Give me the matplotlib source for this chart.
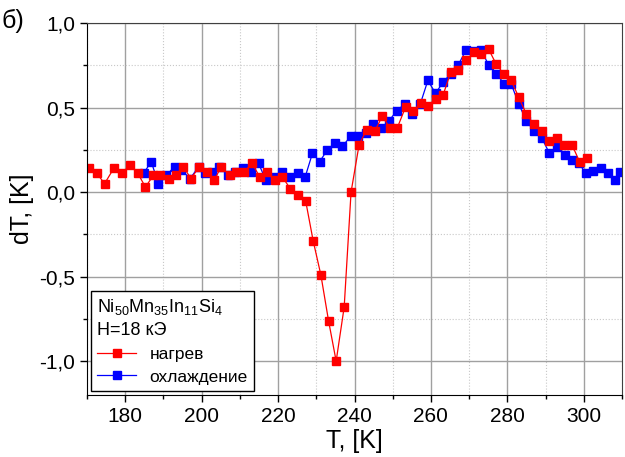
import matplotlib
matplotlib.use('Agg')
import matplotlib.pyplot as plt
from matplotlib.ticker import MultipleLocator, FuncFormatter

plt.rcParams['font.family'] = ['Liberation Sans', 'DejaVu Sans']
plt.rcParams['mathtext.fontset'] = 'custom'
plt.rcParams['mathtext.rm'] = 'Liberation Sans'
plt.rcParams['mathtext.it'] = 'Liberation Sans'

# heating
t_heat = [170.4, 172.6, 174.6, 177.0, 179.1, 181.3, 183.3, 185.3, 187.4, 189.2,
          191.4, 193.3, 195.2, 197.2, 199.4, 201.5, 203.3, 205.1, 207.3, 209.1,
          211.1, 213.2, 215.2, 217.2, 219.2, 221.1, 223.2, 225.3, 227.2, 229.2,
          231.2, 233.2, 235.2, 237.3, 239.1, 241.2, 243.2, 245.3, 247.3, 249.2,
          251.2, 253.4, 255.3, 257.3, 259.2, 261.2, 263.2, 265.2, 267.2, 269.3,
          271.3, 273.2, 275.1, 277.0, 279.0, 281.0, 283.0, 285.0, 287.0, 289.0,
          291.0, 293.0, 294.9, 296.9, 298.9, 300.9]
dt_heat = [0.14, 0.11, 0.05, 0.14, 0.11, 0.16, 0.11, 0.03, 0.10, 0.10,
           0.08, 0.10, 0.15, 0.08, 0.15, 0.12, 0.07, 0.15, 0.10, 0.12,
           0.12, 0.17, 0.09, 0.12, 0.07, 0.09, 0.02, -0.02, -0.05, -0.29,
           -0.49, -0.76, -1.00, -0.68, 0.00, 0.28, 0.37, 0.36, 0.45, 0.38,
           0.38, 0.505, 0.48, 0.525, 0.51, 0.55, 0.575, 0.71, 0.72, 0.78,
           0.83, 0.815, 0.845, 0.76, 0.70, 0.66, 0.56, 0.46, 0.40, 0.36,
           0.30, 0.32, 0.28, 0.28, 0.18, 0.20]

# cooling
t_cool = [184.8, 186.8, 188.7, 190.8, 192.9, 194.7, 197.0, 199.2, 200.9, 202.8,
          204.6, 206.8, 208.8, 210.7, 212.9, 214.9, 216.8, 219.0, 220.9, 223.1,
          225.1, 227.1, 229.0, 230.9, 232.9, 234.9, 236.8, 239.0, 241.0, 242.9,
          244.9, 247.0, 249.0, 251.0, 253.1, 255.1, 257.2, 259.2, 261.2, 263.2,
          265.2, 267.1, 269.2, 271.3, 273.2, 275.1, 277.1, 279.2, 281.0, 283.0,
          285.0, 287.0, 289.0, 291.0, 293.1, 295.0, 297.0, 298.8, 300.5, 302.5,
          304.4, 306.3, 308.2, 309.6]
dt_cool = [0.11, 0.18, 0.05, 0.10, 0.15, 0.13, 0.08, 0.15, 0.11, 0.12,
           0.15, 0.10, 0.12, 0.14, 0.12, 0.17, 0.07, 0.09, 0.12, 0.09,
           0.11, 0.09, 0.23, 0.18, 0.25, 0.29, 0.27, 0.33, 0.33, 0.35,
           0.40, 0.38, 0.42, 0.48, 0.52, 0.46, 0.52, 0.66, 0.585, 0.65,
           0.70, 0.75, 0.84, 0.835, 0.84, 0.75, 0.70, 0.64, 0.64, 0.52,
           0.42, 0.36, 0.32, 0.23, 0.265, 0.22, 0.19, 0.17, 0.11, 0.125,
           0.14, 0.11, 0.07, 0.12]

fig = plt.figure(figsize=(6.25, 4.57), dpi=100)
ax = fig.add_axes([0.1392, 0.1357, 0.856, 0.814])

ax.plot(t_cool, dt_cool, '-s', color='#0000FF', lw=0.9, ms=5.7,
        label='охлаждение')
ax.plot(t_heat, dt_heat, '-s', color='#FF0000', lw=0.9, ms=5.7,
        label='нагрев')

ax.set_xlim(170, 310)
ax.set_ylim(-1.2, 1.0)
ax.xaxis.set_major_locator(MultipleLocator(20))
ax.xaxis.set_minor_locator(MultipleLocator(10))
ax.yaxis.set_major_locator(MultipleLocator(0.5))
ax.yaxis.set_minor_locator(MultipleLocator(0.25))
ax.yaxis.set_major_formatter(FuncFormatter(lambda v, p: ('%.1f' % v).replace('.', ',')))

ax.grid(which='major', color='#a0a0a0', lw=1.0, ls='-')
ax.grid(which='minor', color='#c8c8c8', lw=0.8, ls=':')
ax.set_axisbelow(True)

ax.tick_params(which='major', direction='out', length=5, width=1,
               labelsize=15, top=False, right=False)
ax.tick_params(which='minor', direction='out', length=3, width=1,
               top=False, right=False)
for s in ['top', 'right']:
    ax.spines[s].set_color('#404040')

ax.set_xlabel('T, [K]', fontsize=18, labelpad=2)
ax.set_ylabel('dT, [K]', fontsize=18, labelpad=4)
fig.text(0.003, 0.955, 'б)', fontsize=18, ha='left', va='center')

h, l = ax.get_legend_handles_labels()
leg = ax.legend(h[::-1], l[::-1], loc='lower left', bbox_to_anchor=(0.0, 0.0),
                title='Ni$_{50}$Mn$_{35}$In$_{11}$Si$_{4}$\nH=18 кЭ',
                fontsize=12.5, title_fontsize=13, alignment='left',
                fancybox=False, framealpha=1, edgecolor='black',
                handlelength=2.2, borderaxespad=0.25, labelspacing=0.45,
                borderpad=0.35, handletextpad=0.8)
leg.get_title().set_linespacing(1.35)
leg.get_frame().set_linewidth(1.0)

fig.savefig('out.png', dpi=100)
